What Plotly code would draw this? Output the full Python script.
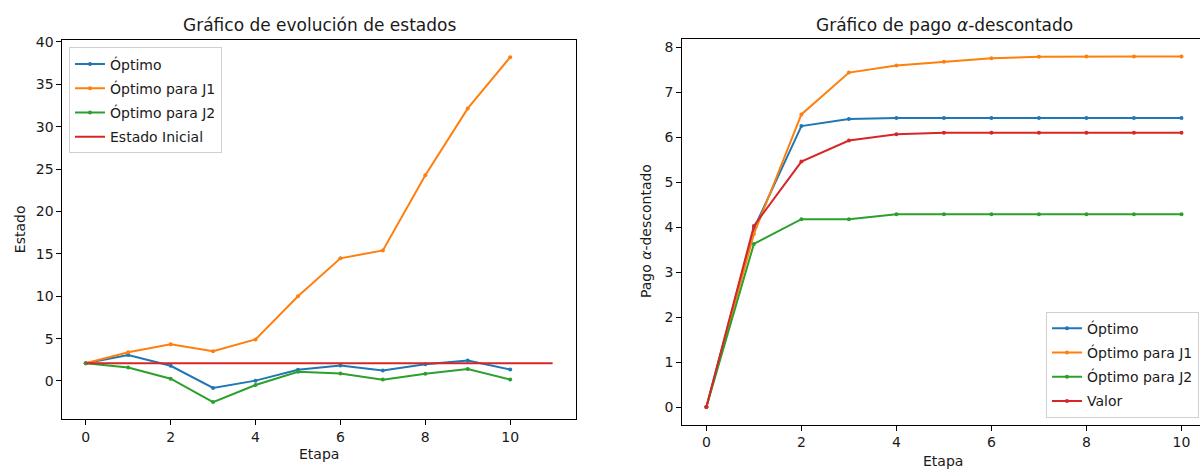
import plotly.graph_objects as go

# ---- data ----
etapas = list(range(11))
estado_optimo = [2.1, 3.07, 1.79, -0.82, 0.04, 1.32, 1.83, 1.25, 1.98, 2.41, 1.36]
estado_j1 = [2.1, 3.38, 4.32, 3.5, 4.9, 10.0, 14.47, 15.4, 24.26, 32.15, 38.2]
estado_j2 = [2.1, 1.6, 0.27, -2.49, -0.47, 1.09, 0.89, 0.16, 0.86, 1.4, 0.16]
estado_inicial_x = [0, 11]
estado_inicial_y = [2.1, 2.1]

pago_optimo = [0.0, 3.97, 6.25, 6.41, 6.43, 6.43, 6.43, 6.43, 6.43, 6.43, 6.43]
pago_j1 = [0.0, 3.85, 6.51, 7.44, 7.6, 7.68, 7.76, 7.79, 7.8, 7.8, 7.8]
pago_j2 = [0.0, 3.63, 4.18, 4.18, 4.29, 4.29, 4.29, 4.29, 4.29, 4.29, 4.29]
pago_valor = [0.0, 4.03, 5.46, 5.93, 6.07, 6.1, 6.1, 6.1, 6.1, 6.1, 6.1]

left_ticks_x = [0, 2, 4, 6, 8, 10]
left_ticks_y = [0, 5, 10, 15, 20, 25, 30, 35, 40]
right_ticks_y = [0, 1, 2, 3, 4, 5, 6, 7, 8]

C_BLUE, C_ORANGE, C_GREEN, C_RED = "#1f77b4", "#ff7f0e", "#2ca02c", "#d62728"
FONT = "DejaVu Sans"
TXT = "#1a1a1a"

fig = go.Figure()

def add_line(x, y, name, color, xa, ya, legend, group, markers=True):
    fig.add_trace(go.Scatter(
        x=x, y=y, name=name, xaxis=xa, yaxis=ya, legend=legend, legendgroup=group,
        mode="lines+markers" if markers else "lines",
        line=dict(color=color, width=2),
        marker=dict(size=4, color=color),
    ))

add_line(etapas, estado_optimo, "Óptimo", C_BLUE, "x", "y", "legend", "a1")
add_line(etapas, estado_j1, "Óptimo para J1", C_ORANGE, "x", "y", "legend", "a2")
add_line(etapas, estado_j2, "Óptimo para J2", C_GREEN, "x", "y", "legend", "a3")
add_line(estado_inicial_x, estado_inicial_y, "Estado Inicial", C_RED, "x", "y", "legend", "a4", markers=False)

add_line(etapas, pago_optimo, "Óptimo", C_BLUE, "x2", "y2", "legend2", "b1")
add_line(etapas, pago_j1, "Óptimo para J1", C_ORANGE, "x2", "y2", "legend2", "b2")
add_line(etapas, pago_j2, "Óptimo para J2", C_GREEN, "x2", "y2", "legend2", "b3")
add_line(etapas, pago_valor, "Valor", C_RED, "x2", "y2", "legend2", "b4")

axis_common = dict(
    showgrid=False, zeroline=False, showline=True, linecolor="black", linewidth=1,
    ticks="outside", ticklen=5, tickwidth=1, tickcolor="black",
    tickfont=dict(family=FONT, size=14, color=TXT),
)

legend_common = dict(
    bgcolor="rgba(255,255,255,0.8)", bordercolor="#d0d0d0", borderwidth=1,
    font=dict(family=FONT, size=14, color=TXT), tracegroupgap=3, itemwidth=30,
    traceorder="grouped",
)

W, H = 1200, 472
fig.update_layout(
    width=W, height=H,
    margin=dict(l=0, r=0, t=0, b=0),
    paper_bgcolor="white", plot_bgcolor="white",
    font=dict(family=FONT, size=14, color=TXT),
    xaxis=dict(domain=[62.4 / W, 576 / W], range=[-0.55, 11.55], tickvals=left_ticks_x,
               mirror=True, anchor="y", **axis_common),
    yaxis=dict(domain=[(H - 418.7) / H, (H - 34.3) / H], range=[-4.53, 40.24],
               tickvals=left_ticks_y, mirror=True, anchor="x", **axis_common),
    xaxis2=dict(domain=[682.3 / W, 1.0], range=[-0.507, 10.39], tickvals=left_ticks_x,
                mirror=True, anchor="y2", **axis_common),
    yaxis2=dict(domain=[(H - 424) / H, (H - 33.3) / H], range=[-0.39, 8.19],
                tickvals=right_ticks_y, mirror=False, anchor="x2", **axis_common),
    legend=dict(x=69 / W, y=(H - 42) / H, xanchor="left", yanchor="top", **legend_common),
    legend2=dict(x=1199 / W, y=(H - 417) / H, xanchor="right", yanchor="bottom", **legend_common),
    annotations=[
        dict(text="Gráfico de evolución de estados", x=319 / W, y=(H - 19) / H,
             xref="paper", yref="paper", showarrow=False, xanchor="center", yanchor="middle",
             font=dict(family=FONT, size=17, color=TXT)),
        dict(text="Gráfico de pago <i>α</i>-descontado", x=944 / W, y=(H - 19) / H,
             xref="paper", yref="paper", showarrow=False, xanchor="center", yanchor="middle",
             font=dict(family=FONT, size=17, color=TXT)),
        dict(text="Etapa", x=319 / W, y=(H - 454) / H, xref="paper", yref="paper",
             showarrow=False, xanchor="center", yanchor="middle",
             font=dict(family=FONT, size=14, color=TXT)),
        dict(text="Etapa", x=943 / W, y=(H - 461) / H, xref="paper", yref="paper",
             showarrow=False, xanchor="center", yanchor="middle",
             font=dict(family=FONT, size=14, color=TXT)),
        dict(text="Estado", x=20 / W, y=(H - 226) / H, xref="paper", yref="paper",
             showarrow=False, xanchor="center", yanchor="middle", textangle=-90,
             font=dict(family=FONT, size=14, color=TXT)),
        dict(text="Pago <i>α</i>-descontado", x=646 / W, y=(H - 228) / H, xref="paper", yref="paper",
             showarrow=False, xanchor="center", yanchor="middle", textangle=-90,
             font=dict(family=FONT, size=14, color=TXT)),
    ],
)

fig.write_html(
    "out.html",
    config={"displayModeBar": False},
    post_script="document.body.style.margin='0';document.body.style.overflow='hidden';",
)
